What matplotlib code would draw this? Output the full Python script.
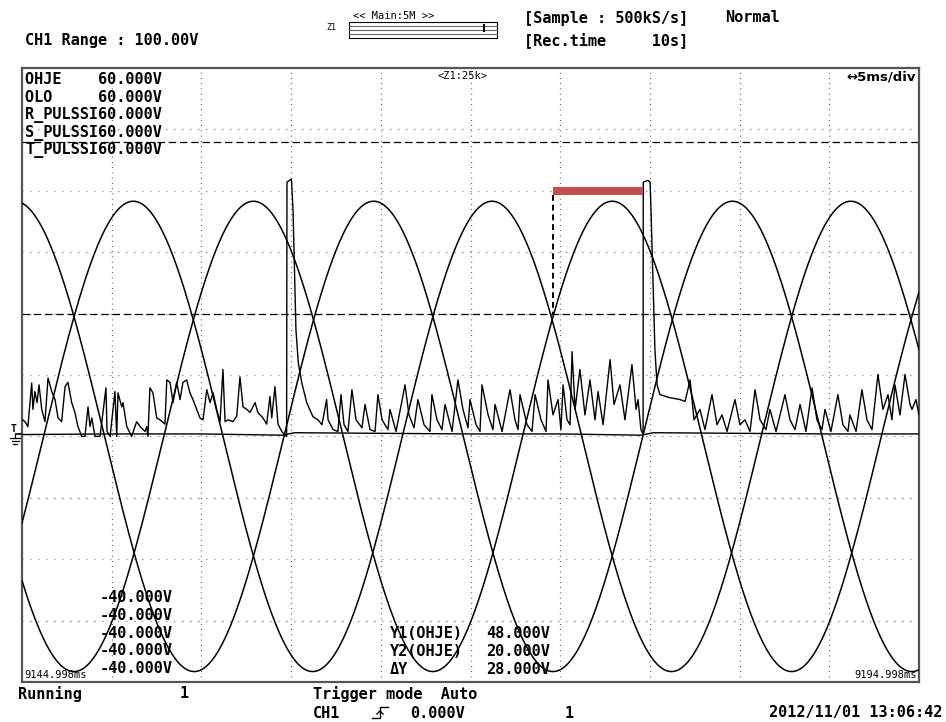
import numpy as np
import matplotlib
matplotlib.use("Agg")
import matplotlib.pyplot as plt
from matplotlib.patches import Rectangle
from matplotlib.lines import Line2D

W, H = 946, 722
MONO = "DejaVu Sans Mono"

# screen scale: 5 ms/div, 10 V/div, 10 x 10 divisions
T_SPAN = 50.0
V_LO, V_HI = -40.0, 60.0
T_LEFT_LABEL = "9144.998ms"
T_RIGHT_LABEL = "9194.998ms"

# three-phase mains (R, S, T pulse channels)
SINE_AMP = 38.3          # V
SINE_PERIOD = 20.0       # ms
SINE_CRESTS = [6.2, 12.9, 19.6]   # ms, first crest of each phase

# OHJE (control signal) trace, ms / V
OHJE_T = [0.04, 0.17, 0.33, 0.54, 0.61, 0.72, 0.84, 0.95, 1.10, 1.28, 1.45, 1.66,
          1.84, 2.01, 2.21, 2.40, 2.56, 2.77, 2.95, 3.12, 3.33, 3.51, 3.68, 3.79,
          3.89, 4.07, 4.35, 4.68, 4.74, 4.91, 5.18, 5.28, 5.35, 5.56, 5.63, 5.84,
          6.11, 6.39, 6.58, 6.86, 6.95, 7.02, 7.13, 7.30, 7.51, 7.69, 7.97, 8.07,
          8.25, 8.42, 8.62, 8.81, 8.97, 9.18, 9.36, 9.53, 9.74, 9.92, 10.09, 10.30,
          10.48, 10.65, 10.85, 11.04, 11.20, 11.32, 11.48, 11.76, 11.97, 12.15, 12.32,
          12.53, 12.71, 12.99, 13.15, 13.43, 13.64, 13.82, 13.92, 14.10, 14.27, 14.48,
          14.66, 14.75, 14.77, 15.00, 15.03, 15.05, 15.11, 15.19, 15.27, 15.40, 15.59,
          15.87, 16.22, 16.50, 16.72, 16.98, 17.06, 17.34, 17.61, 17.78, 17.95, 18.17,
          18.39, 18.62, 18.95, 19.12, 19.40, 19.68, 19.84, 20.07, 20.40, 20.51, 20.85,
          21.35, 21.57, 21.85, 22.07, 22.41, 22.74, 22.85, 23.13, 23.41, 23.58, 23.97,
          24.30, 24.58, 24.86, 24.97, 25.31, 25.53, 25.64, 25.98, 26.25, 26.37, 26.76,
          27.20, 27.48, 27.65, 27.76, 28.15, 28.43, 28.60, 28.93, 29.21, 29.32, 29.60,
          29.88, 30.04, 30.16, 30.38, 30.55, 30.66, 30.83, 31.10, 31.38, 31.66, 31.94,
          32.11, 32.39, 32.78, 33.00, 33.33, 33.61, 34.00, 34.23, 34.34, 34.50, 34.62,
          34.63, 34.89, 35.01, 35.06, 35.17, 35.28, 35.40, 35.56, 36.12, 36.68, 36.96,
          37.24, 37.46, 37.79, 38.07, 38.46, 38.74, 39.02, 39.30, 39.74, 40.02, 40.30,
          40.58, 40.86, 41.14, 41.47, 41.69, 42.03, 42.53, 42.81, 43.09, 43.37, 43.70,
          44.04, 44.31, 44.59, 44.76, 45.09, 45.48, 45.76, 46.04, 46.15, 46.49, 46.82,
          47.10, 47.38, 47.71, 47.99, 48.27, 48.49, 48.66, 48.94, 49.22, 49.50, 49.61,
          49.83, 50.00]
OHJE_V = [2.7, 2.4, 1.6, 8.7, 4.4, 7.3, 5.5, 8.4, 4.4, 2.4, 9.5, 7.3,
          6.0, 3.0, 2.4, 8.1, 8.8, 5.5, 3.9, 1.6, 0.0, 0.0, 4.8, 1.6,
          3.0, 0.0, 0.0, 7.9, 0.8, 0.0, 7.3, 0.0, 7.1, 4.8, 5.5, 1.6,
          0.0, 2.4, 1.6, 0.8, 1.6, 0.0, 7.9, 7.1, 3.0, 2.7, 2.0, 9.2,
          8.8, 5.5, 8.8, 6.0, 8.8, 9.2, 7.1, 6.0, 4.4, 3.0, 2.7, 7.6,
          5.5, 7.1, 4.4, 2.4, 10.9, 2.4, 2.7, 2.4, 3.3, 9.7, 4.8,
          4.4, 3.9, 5.5, 3.9, 3.0, 2.0, 6.5, 3.0, 8.1, 2.0, 0.8,
          0.2, 0.0, 41.4, 41.9, 41.4, 40.2, 36.5, 27.2, 17.4, 12.0, 8.8,
          5.5, 3.2, 2.7, 1.9, 6.0, 2.7, 1.1, 0.8, 6.8, 1.9, 0.8,
          7.6, 2.7, 1.4, 5.2, 1.1, 0.8, 6.8, 2.7, 1.1, 4.4, 0.8,
          8.4, 3.5, 1.4, 6.0, 1.9, 0.8, 6.8, 2.7, 1.1, 5.2, 0.8,
          9.2, 4.4, 1.4, 6.0, 1.9, 0.8, 8.4, 3.5, 1.1, 5.2, 0.8,
          7.6, 2.7, 1.1, 6.8, 1.9, 0.8, 6.8, 2.7, 0.8, 9.2, 3.5,
          6.0, 1.1, 8.4, 2.7, 1.9, 13.8, 4.4, 10.9, 3.5, 9.2, 2.7,
          7.3, 1.9, 12.5, 5.2, 8.4, 2.7, 11.7, 4.4, 6.0, 1.1, 0.4,
          41.4, 41.7, 41.4, 37.0, 25.5, 14.1, 8.4, 6.8, 6.3, 6.0, 5.7,
          9.2, 2.7, 4.4, 1.1, 6.8, 1.9, 3.5, 0.8, 6.0, 1.9, 2.7,
          0.8, 7.6, 2.7, 1.1, 4.4, 0.8, 6.8, 2.7, 1.1, 5.2, 0.8,
          7.9, 2.7, 1.1, 4.4, 0.8, 6.8, 1.9, 0.8, 3.5, 0.8, 7.6,
          2.7, 1.1, 10.1, 4.4, 6.8, 2.7, 8.4, 3.5, 10.1, 5.2, 4.4,
          6.0, 3.5]

# OLO trace, sits just above 0 V
OLO_T = [0.0, 5.0, 10.0, 14.5, 15.2, 20.0, 25.0, 30.0, 34.5, 35.2, 40.0, 45.0, 50.0]
OLO_V = [0.3, 0.4, 0.4, 0.2, 0.6, 0.5, 0.4, 0.4, 0.2, 0.6, 0.5, 0.4, 0.4]

CURSOR_Y1, CURSOR_Y2 = 48.0, 20.0
CURSOR_T = 29.6
BAR_T0, BAR_T1, BAR_V = 29.6, 34.6, 40.0

CH_LABELS = ["OHJE    60.000V", "OLO     60.000V", "R_PULSSI60.000V",
             "S_PULSSI60.000V", "T_PULSSI60.000V"]
LOW_LABELS = ["-40.000V"] * 5
CURSOR_ROWS = [("Y1(OHJE)", "48.000V"), ("Y2(OHJE)", "20.000V"), ("\u0394Y", "28.000V")]


def fx(x):
    return x / W


def fy(y):
    return 1 - y / H


def ftext(fig, x, y, s, size=11, weight="bold", ha="left", family=MONO, **kw):
    fig.text(fx(x), fy(y), s, ha=ha, va="center", fontsize=size,
             fontweight=weight, family=family, color="black", **kw)


fig = plt.figure(figsize=(W / 100, H / 100), dpi=100)
ax = fig.add_axes([fx(22), fy(682), fx(919) - fx(22), fy(68) - fy(682)])
ax.set_xlim(0, T_SPAN)
ax.set_ylim(V_LO, V_HI)
ax.set_xticks([])
ax.set_yticks([])
for s in ax.spines.values():
    s.set_color("#555555")
    s.set_linewidth(1.6)

# dotted division grid
for k in range(1, 10):
    ax.axvline(k * 5.0, color="#333333", lw=0.9, ls=(0, (0.6, 3.6)), zorder=1)
    ax.axhline(V_LO + k * 10.0, color="#333333", lw=0.9, ls=(0, (0.6, 5.8)), zorder=1)

# cursors
for v in (CURSOR_Y1, CURSOR_Y2):
    ax.axhline(v, color="black", lw=0.9, ls=(0, (6, 3)), zorder=2)

t = np.linspace(0, T_SPAN, 3001)
for crest in SINE_CRESTS:
    ax.plot(t, SINE_AMP * np.cos(2 * np.pi * (t - crest) / SINE_PERIOD),
            color="black", lw=1.1, zorder=3)

ax.plot(OLO_T, OLO_V, color="black", lw=1.0, zorder=3)
ax.plot(OHJE_T, OHJE_V, color="black", lw=1.0, zorder=4)

ax.add_patch(Rectangle((BAR_T0, BAR_V - 0.7), BAR_T1 - BAR_T0, 1.4,
                       color="#c0504d", lw=0, zorder=5))
ax.plot([CURSOR_T, CURSOR_T], [BAR_V - 0.7, CURSOR_Y2], color="black",
        lw=1.4, ls=(0, (3, 2)), zorder=5)

# header
ftext(fig, 25, 40, "CH1 Range : 100.00V")
ftext(fig, 524, 18, "[Sample : 500kS/s]")
ftext(fig, 725, 18, "Normal")
ftext(fig, 524, 40, "[Rec.time     10s]")
ftext(fig, 394, 16, "<< Main:5M >>", size=7.5, weight="normal", ha="center")
ftext(fig, 331, 28, "Z1", size=6, weight="normal", ha="center")
fig.add_artist(Rectangle((fx(349), fy(38)), fx(497) - fx(349), fy(22) - fy(38),
                         fill=False, ec="black", lw=0.8))
for yy in (26, 30, 34):
    fig.add_artist(Line2D([fx(349), fx(497)], [fy(yy), fy(yy)], color="#666666", lw=0.8))
fig.add_artist(Line2D([fx(484), fx(484)], [fy(25), fy(31)], color="black", lw=1.5))

# in-screen labels
ftext(fig, 462, 76, "<Z1:25k>", size=7.5, weight="normal", ha="center")
ftext(fig, 916, 77, "\u21945ms/div", size=9.5, weight="bold", ha="right", family="DejaVu Sans")
for i, s in enumerate(CH_LABELS):
    ftext(fig, 25, 80 + i * 17.6, s)
for i, s in enumerate(LOW_LABELS):
    ftext(fig, 100, 598 + i * 17.6, s)
for i, (a, b) in enumerate(CURSOR_ROWS):
    ftext(fig, 390, 633 + i * 18, a)
    ftext(fig, 486, 633 + i * 18, b)
ftext(fig, 24, 675, T_LEFT_LABEL, size=7.5, weight="normal")
ftext(fig, 917, 675, T_RIGHT_LABEL, size=7.5, weight="normal", ha="right")

# ground / trigger marker
ftext(fig, 11, 429, "T", size=7, weight="bold")
fig.add_artist(Line2D([fx(16), fx(21)], [fy(434), fy(434)], color="black", lw=1.2))
for yy, half in ((438, 5), (441, 3.5), (444, 2)):
    fig.add_artist(Line2D([fx(15 - half), fx(15 + half)], [fy(yy), fy(yy)], color="black", lw=0.9))
fig.add_artist(Line2D([fx(15), fx(15)], [fy(434), fy(438)], color="black", lw=0.9))

# footer
ftext(fig, 18, 694, "Running")
ftext(fig, 180, 694, "1")
ftext(fig, 313, 694, "Trigger mode  Auto")
ftext(fig, 313, 713, "CH1")
ftext(fig, 410, 713, "0.000V")
ftext(fig, 565, 713, "1")
ftext(fig, 942, 713, "2012/11/01 13:06:42", ha="right")
fig.add_artist(Line2D([fx(372), fx(380), fx(380), fx(388)],
                      [fy(718), fy(718), fy(707), fy(707)], color="black", lw=1.0))
fig.add_artist(Line2D([fx(377), fx(380), fx(383)], [fy(714), fy(711), fy(714)],
                      color="black", lw=1.0))

fig.savefig("out.png", dpi=100)
